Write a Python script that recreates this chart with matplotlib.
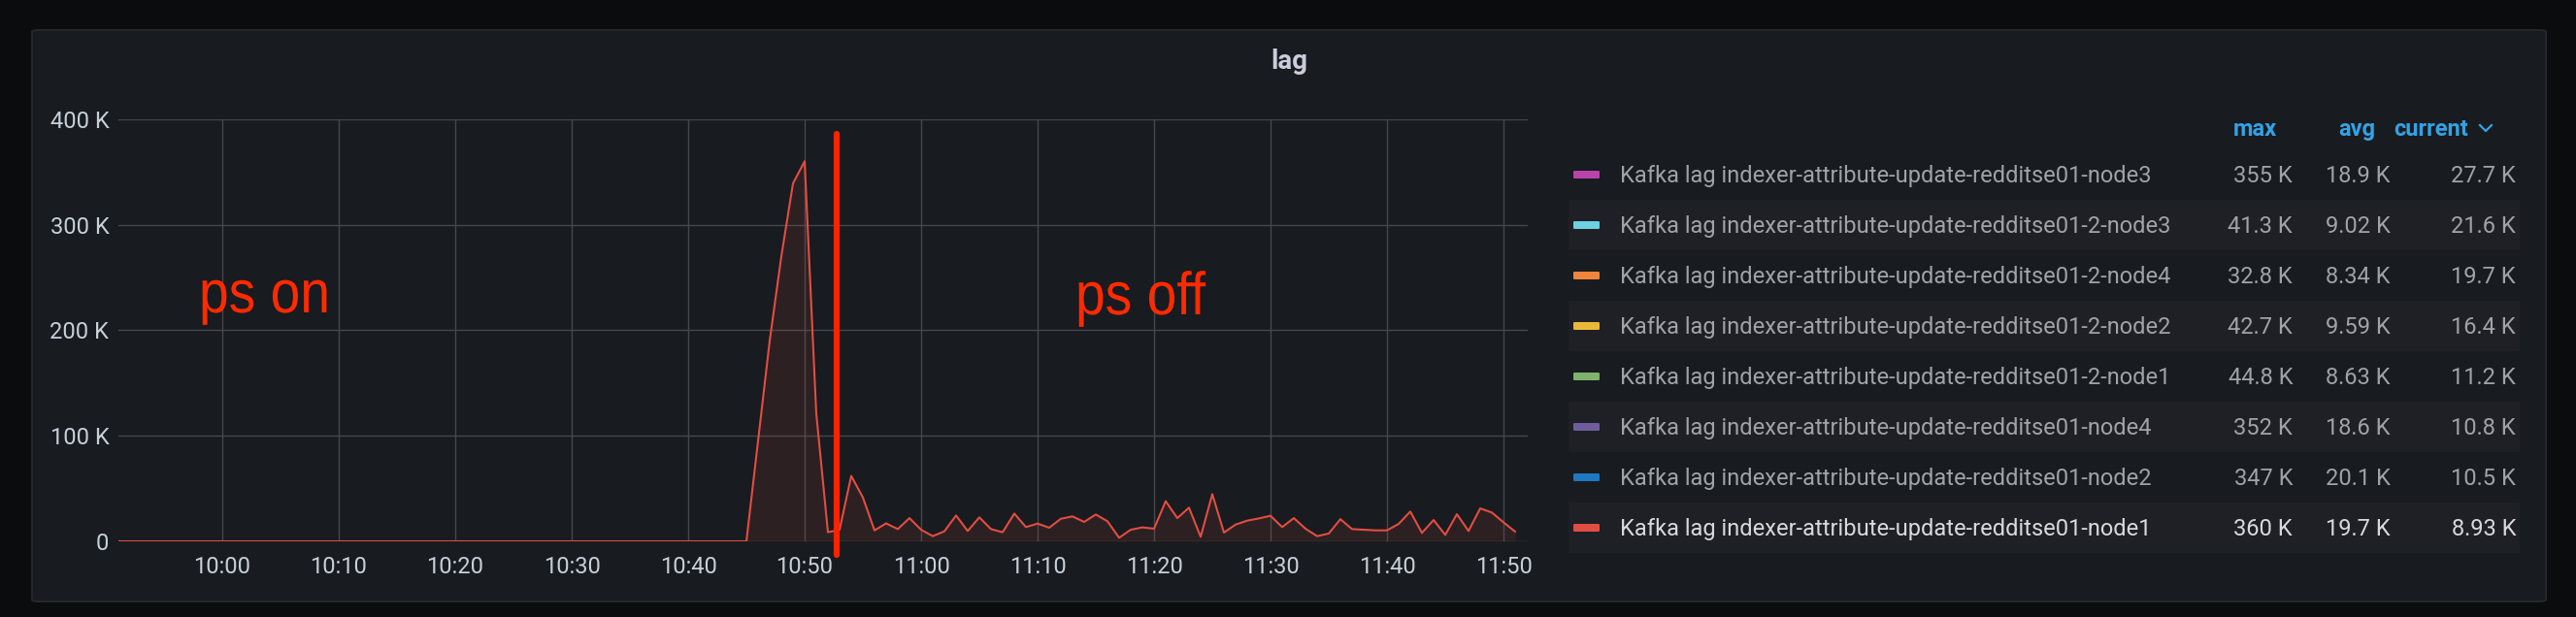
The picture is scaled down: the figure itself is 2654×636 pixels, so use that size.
import datetime as dt
import matplotlib
matplotlib.use('Agg')
import matplotlib.pyplot as plt
import matplotlib.dates as mdates
from matplotlib.patches import FancyBboxPatch, Rectangle, PathPatch
from matplotlib.lines import Line2D
from matplotlib.textpath import TextPath
from matplotlib.font_manager import FontProperties
from matplotlib.transforms import Affine2D, IdentityTransform
import pandas as pd

# lag of indexer-attribute-update-redditse01-node1, one sample per minute (K)
start_time = dt.datetime(2021, 1, 1, 9, 51)
lag_node1 = [
    0, 0, 0, 0, 0, 0, 0, 0, 0, 0, 0, 0, 0, 0, 0, 0, 0, 0, 0, 0,
    0, 0, 0, 0, 0, 0, 0, 0, 0, 0, 0, 0, 0, 0, 0, 0, 0, 0, 0, 0,
    0, 0, 0, 0, 0, 0, 0, 0, 0, 0, 0, 0, 0, 0, 0,
    95, 190, 270, 339, 360, 121, 8.6, 11, 62, 41.6,
    10.4, 17, 11.6, 22, 11, 4.9, 9.5, 24.5, 9.8, 22.7,
    11.6, 8.6, 26.3, 13.5, 16.8, 12.9, 21.4, 23.6, 18.4, 25.4,
    19, 3.4, 11, 13.2, 12, 38, 22, 31.9, 4.3, 44.7,
    8.3, 15.9, 19.6, 21.7, 24.2, 13.5, 22, 12, 4.9, 7.4,
    21, 11.6, 11, 10.4, 10.4, 16.5, 28.2, 8, 20.2, 6.1,
    25.7, 9.8, 31.2, 27.3, 18, 9.2,
]
y_ticks = [0, 100, 200, 300, 400]
y_tick_labels = ['0', '100 K', '200 K', '300 K', '400 K']
switch_time = dt.datetime(2021, 1, 1, 10, 52, 45)  # "ps" switched off

series_names = [
    'Kafka lag indexer-attribute-update-redditse01-node3',
    'Kafka lag indexer-attribute-update-redditse01-2-node3',
    'Kafka lag indexer-attribute-update-redditse01-2-node4',
    'Kafka lag indexer-attribute-update-redditse01-2-node2',
    'Kafka lag indexer-attribute-update-redditse01-2-node1',
    'Kafka lag indexer-attribute-update-redditse01-node4',
    'Kafka lag indexer-attribute-update-redditse01-node2',
    'Kafka lag indexer-attribute-update-redditse01-node1',
]
series_colors = ['#ba43a9', '#6ed0e0', '#ef843c', '#eab839',
                 '#7eb26d', '#705da0', '#1f78c1', '#e24d42']
max_vals = ['355 K', '41.3 K', '32.8 K', '42.7 K', '44.8 K', '352 K', '347 K', '360 K']
avg_vals = ['18.9 K', '9.02 K', '8.34 K', '9.59 K', '8.63 K', '18.6 K', '20.1 K', '19.7 K']
current_vals = ['27.7 K', '21.6 K', '19.7 K', '16.4 K', '11.2 K', '10.8 K', '10.5 K', '8.93 K']

plt.rcParams['font.family'] = ['Roboto', 'DejaVu Sans']

W, H = 2654, 636
fig = plt.figure(figsize=(W / 100, H / 100), dpi=100, facecolor='#0b0c0e')


def fx(px):
    return px / W


def fy(py):
    return 1 - py / H


# panel background
fig.patches.append(FancyBboxPatch((fx(33), fy(620)), fx(2623 - 33), (620 - 31) / H,
                                  boxstyle='round,pad=0,rounding_size=0.003',
                                  transform=fig.transFigure, facecolor='#181b1f',
                                  edgecolor='#25272c', linewidth=1.5, zorder=-2))
fig.text(fx(1328), fy(71), 'lag', ha='center', va='baseline', fontsize=20,
         fontweight='bold', color='#ccccdc')

ax = fig.add_axes([fx(122), fy(558), fx(1574 - 122), (558 - 122.7) / H])
ax.set_zorder(1)
ax.set_facecolor('#181b1f')
times = pd.date_range(start_time, periods=len(lag_node1), freq='1min')
ax.plot(times, lag_node1, color=series_colors[-1], lw=1.5, zorder=3)
ax.fill_between(times, lag_node1, 0, color=series_colors[-1], alpha=0.1, lw=0, zorder=2)

ax.set_ylim(0, 400)
ax.set_xlim(dt.datetime(2021, 1, 1, 9, 51, 5), dt.datetime(2021, 1, 1, 11, 52, 5))
ax.set_yticks(y_ticks)
ax.set_yticklabels(y_tick_labels)
ax.xaxis.set_major_locator(mdates.MinuteLocator(byminute=range(0, 60, 10)))
ax.xaxis.set_major_formatter(mdates.DateFormatter('%H:%M'))
ax.tick_params(length=0, labelsize=17, colors='#c7d0d9')
ax.tick_params(axis='y', pad=7)
ax.tick_params(axis='x', pad=11)
ax.grid(True, color='#45474c', lw=1.0)
for s in ax.spines.values():
    s.set_visible(False)

# hand-drawn annotation on top of the screenshot
ax.plot([switch_time, switch_time], [0.964, -0.032], transform=ax.get_xaxis_transform(),
        color='#ff2200', lw=4.5, solid_capstyle='round', clip_on=False, zorder=5)


def note(text, x, y):
    # slightly condensed lettering, like the screenshot annotation
    tp = TextPath((0, 0), text, size=62, prop=FontProperties(family='Liberation Sans'))
    tr = Affine2D().scale(0.89, 1.0).translate(x, H - y)
    fig.patches.append(PathPatch(tr.transform_path(tp), transform=IdentityTransform(),
                                 facecolor='#ff2a00', edgecolor='none', zorder=10))


note('ps on', 205, 322)
note('ps off', 1108, 324)

# legend table
hdr_color = '#33a2e5'
fig.text(fx(2346), fy(140), 'max', ha='right', va='baseline', fontsize=17,
         fontweight='semibold', color=hdr_color)
fig.text(fx(2447), fy(140), 'avg', ha='right', va='baseline', fontsize=17,
         fontweight='semibold', color=hdr_color)
fig.text(fx(2543), fy(140), 'current', ha='right', va='baseline', fontsize=17,
         fontweight='semibold', color=hdr_color)
fig.lines.append(Line2D([fx(2555), fx(2561), fx(2567)], [fy(129), fy(135), fy(129)],
                        transform=fig.transFigure, color=hdr_color, lw=1.6))

for i, name in enumerate(series_names):
    cy = 180 + 52 * i
    if i % 2 == 1:
        fig.patches.append(Rectangle((fx(1616), fy(cy + 26)), fx(2596 - 1616), 52 / H,
                                     transform=fig.transFigure, facecolor='#1e2025',
                                     edgecolor='none', zorder=-1))
    fig.patches.append(FancyBboxPatch((fx(1621), fy(cy + 4)), fx(27), 8 / H,
                                      boxstyle='round,pad=0,rounding_size=0.001',
                                      transform=fig.transFigure,
                                      facecolor=series_colors[i], edgecolor='none', zorder=1))
    txt_color = '#d8d9da' if i == len(series_names) - 1 else '#9fa3a8'
    base = fy(cy + 8)
    fig.text(fx(1669), base, name, va='baseline', fontsize=17, color=txt_color)
    fig.text(fx(2362), base, max_vals[i], ha='right', va='baseline', fontsize=17, color=txt_color)
    fig.text(fx(2463), base, avg_vals[i], ha='right', va='baseline', fontsize=17, color=txt_color)
    fig.text(fx(2592), base, current_vals[i], ha='right', va='baseline', fontsize=17, color=txt_color)

fig.savefig('out.png', dpi=100, facecolor=fig.get_facecolor())
